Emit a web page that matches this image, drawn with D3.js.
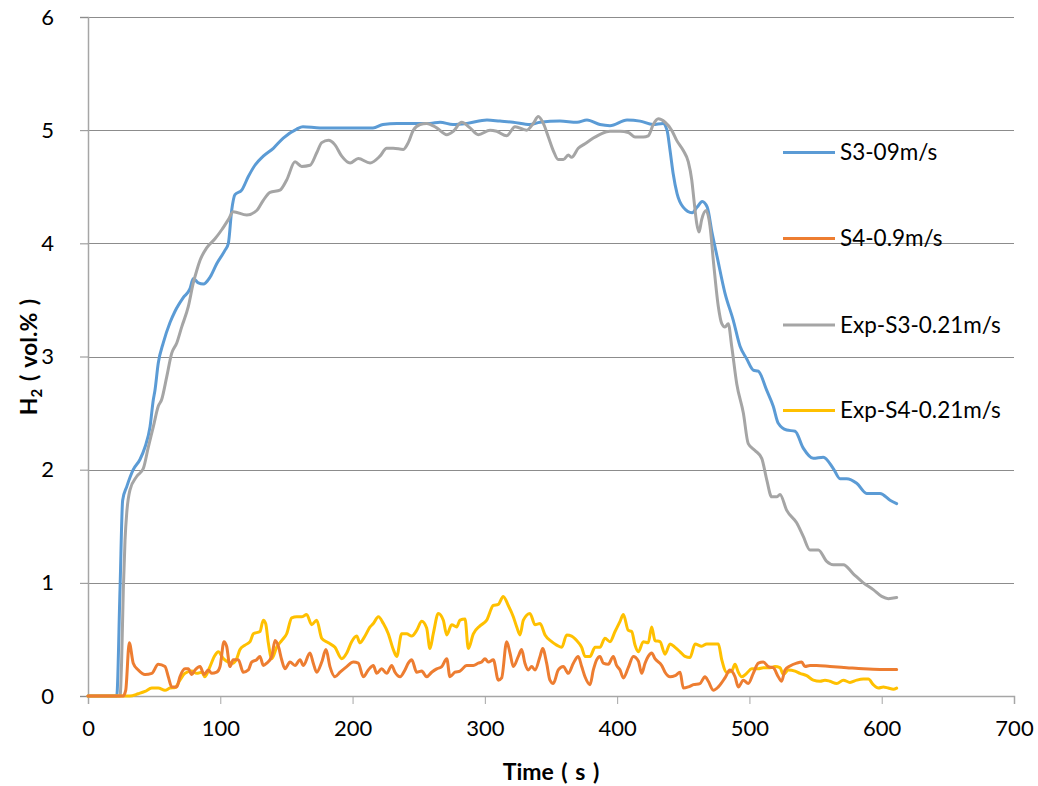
<!DOCTYPE html>
<html>
<head>
<meta charset="utf-8">
<script src="https://cdn.jsdelivr.net/npm/d3@7"></script>
<style>
  html, body { margin: 0; padding: 0; background: #ffffff; }
  svg { display: block; font-family: Lato, "Open Sans", sans-serif; }
</style>
</head>
<body>
<svg id="chart" width="1038" height="786"></svg>
<script>
// Hydrogen concentration (vol.%) versus time (s), [time, value] pairs per series.
const seriesNames = ["S3-09m/s", "S4-0.9m/s", "Exp-S3-0.21m/s", "Exp-S4-0.21m/s"];
const seriesColors = ["#5B9BD5", "#ED7D31", "#A5A5A5", "#FFC000"];

const s3Sim = [
  [0,0],[21.7,0],[24.2,0.94],[26.2,1.73],[29.3,1.85],[34.2,2.0],[39.3,2.09],[43.1,2.2],[46.9,2.38],
  [49.4,2.62],[50.6,2.70],[53.1,2.94],[56.9,3.12],[62,3.30],[65.8,3.40],[72,3.52],[77.1,3.60],
  [79.6,3.69],[83.4,3.65],[87.2,3.64],[92.2,3.70],[97.3,3.82],[103.6,3.94],[106.1,4.0],[108.6,4.29],
  [111.1,4.43],[116.2,4.47],[121.2,4.59],[126.2,4.69],[132.5,4.77],[140.1,4.84],[147.6,4.93],
  [157.8,5.01],[162.5,5.03],[175.4,5.02],[190.5,5.02],[205.6,5.02],[215.4,5.02],[223,5.05],
  [233.6,5.06],[245.7,5.06],[258.5,5.06],[266.1,5.07],[275.9,5.05],[286.5,5.06],[301.6,5.09],
  [311.4,5.08],[321.3,5.07],[334.1,5.05],[341.7,5.07],[356.8,5.08],[369.7,5.07],[377.2,5.09],
  [387,5.05],[394.6,5.04],[407.5,5.09],[417.3,5.08],[427.1,5.05],[434.7,5.06],[437.7,5.0],
  [440,4.82],[442.3,4.62],[445.3,4.44],[449.9,4.32],[456.7,4.27],[460.5,4.32],[464.3,4.37],
  [468.1,4.32],[471.8,4.09],[475.6,3.88],[481.5,3.56],[487.8,3.32],[492.9,3.09],[497.9,2.98],
  [502.9,2.88],[506.7,2.87],[513.1,2.70],[518,2.56],[521.8,2.41],[528.2,2.35],[534.5,2.34],
  [540.7,2.19],[548.3,2.10],[555.8,2.11],[563.4,2.01],[568.5,1.92],[573.5,1.92],[581.1,1.88],
  [588.6,1.79],[598.7,1.79],[606.3,1.73],[611.3,1.70]
];

const s4Sim = [
  [0,0],[26.5,0],[28.5,0.05],[31.2,0.47],[34.2,0.29],[38,0.23],[43.1,0.19],[48.2,0.20],[53.1,0.28],
  [58.2,0.26],[60.7,0.17],[63.3,0.08],[67.1,0.08],[69.5,0.17],[73.3,0.24],[75.8,0.24],[78.4,0.19],
  [80.9,0.23],[84.7,0.26],[87.7,0.19],[90.9,0.23],[93.5,0.20],[97.3,0.21],[99.8,0.26],[102.8,0.48],
  [104.8,0.44],[107.3,0.26],[109.8,0.32],[113.6,0.32],[117.4,0.21],[121.2,0.23],[123.7,0.30],
  [127.5,0.32],[130,0.35],[132.5,0.27],[135.1,0.29],[138.9,0.35],[141.4,0.49],[143.9,0.44],
  [146.4,0.32],[148.9,0.24],[152.7,0.30],[156.5,0.27],[160.3,0.32],[162.8,0.27],[167.8,0.38],
  [170.3,0.29],[172.9,0.21],[176.7,0.30],[179.9,0.41],[182.9,0.26],[186.7,0.17],[190.5,0.21],
  [195.6,0.26],[200.6,0.30],[204.3,0.29],[208.1,0.17],[211.9,0.23],[215.7,0.27],[218.2,0.20],
  [222,0.24],[225.8,0.20],[229.6,0.27],[232.1,0.21],[235.9,0.17],[239.6,0.23],[242.1,0.29],
  [244.7,0.32],[248.5,0.21],[252.3,0.22],[256,0.17],[259.8,0.21],[263.6,0.24],[267.4,0.26],
  [271.2,0.33],[273.6,0.17],[277.4,0.21],[281.2,0.22],[286.3,0.27],[291.3,0.27],[295,0.29],
  [297.6,0.30],[300.1,0.33],[302.6,0.30],[306.4,0.32],[310.2,0.14],[312.7,0.16],[316.5,0.48],
  [319,0.38],[321.5,0.26],[325.3,0.35],[327.8,0.41],[330.3,0.29],[332.8,0.23],[335.4,0.26],
  [337.9,0.23],[341.7,0.35],[343.7,0.42],[346.7,0.29],[349.2,0.14],[351.7,0.11],[355.5,0.23],
  [359.3,0.26],[363.1,0.20],[366.9,0.29],[370.6,0.35],[373.2,0.26],[375.7,0.17],[379.5,0.10],
  [382,0.23],[384.5,0.32],[387,0.35],[389.5,0.29],[393.3,0.28],[397.1,0.35],[399.6,0.27],
  [402.2,0.23],[404.7,0.16],[408.4,0.25],[412.2,0.35],[416,0.31],[418.6,0.20],[421.1,0.29],
  [423.5,0.35],[426.1,0.38],[428.6,0.33],[433.7,0.27],[436.2,0.21],[440,0.17],[443.8,0.18],
  [447.6,0.21],[450,0.07],[453.8,0.08],[457.6,0.10],[462.6,0.11],[466.4,0.17],[468.9,0.13],
  [472.7,0.05],[476.5,0.08],[481.5,0.16],[485.3,0.23],[489.1,0.17],[491.6,0.08],[495.4,0.14],
  [499.1,0.11],[502.9,0.20],[506.7,0.29],[510.5,0.30],[514.3,0.26],[518,0.25],[521.8,0.17],
  [524.3,0.13],[526.9,0.23],[530.7,0.265],[535.7,0.29],[539.5,0.30],[542,0.26],[545.8,0.27],
  [550.8,0.27],[560.9,0.26],[573.5,0.25],[586.1,0.24],[598.7,0.235],[611.3,0.235]
];

const s3Exp = [
  [0,0],[24.2,0],[25.4,0.3],[26.7,0.94],[28,1.38],[29.3,1.62],[31.7,1.82],[36.8,1.94],[41.8,2.01],
  [45.6,2.20],[49.4,2.38],[53.1,2.56],[55.7,2.62],[59.5,2.82],[63.3,3.03],[67.1,3.12],[70.8,3.26],
  [75.8,3.44],[79.6,3.65],[82.2,3.76],[84.7,3.85],[89.7,3.96],[96,4.04],[101.1,4.12],[106.1,4.21],
  [109.8,4.28],[120,4.25],[127.5,4.29],[132.5,4.38],[137.6,4.45],[145.1,4.47],[150.2,4.56],
  [156.5,4.72],[161.5,4.68],[167.8,4.69],[172.9,4.80],[176.7,4.89],[181.7,4.91],[186.7,4.87],
  [191.8,4.77],[198.1,4.71],[204.3,4.75],[213.2,4.71],[220.7,4.77],[225.8,4.84],[230.8,4.84],
  [238.4,4.83],[242.1,4.89],[245.9,5.0],[251,5.05],[256,5.06],[263.6,5.02],[271.2,4.96],
  [276.1,4.99],[282.5,5.07],[288.8,5.02],[295,4.96],[303.9,5.0],[308.9,4.99],[316.5,4.95],
  [322.8,5.03],[331.6,5.0],[336.6,5.06],[340.4,5.12],[344.2,5.06],[348,4.94],[351.7,4.82],
  [355.5,4.74],[359.3,4.74],[363.1,4.78],[365.6,4.76],[370.6,4.84],[375.7,4.88],[382,4.93],
  [388.3,4.97],[394.6,4.99],[402.2,4.99],[408.4,4.98],[413.5,4.94],[419.8,4.94],[423.5,4.95],
  [427.3,5.05],[431.1,5.10],[436.2,5.07],[441.2,5.0],[445,4.91],[450,4.82],[453.8,4.72],
  [456.4,4.56],[458.1,4.38],[460.1,4.18],[461.9,4.10],[463.9,4.21],[467.2,4.29],[470.2,4.15],
  [472.7,3.85],[476.5,3.44],[479.1,3.29],[481.5,3.26],[484,3.29],[486.6,3.09],[490.4,2.76],
  [495.4,2.50],[499.1,2.23],[504.2,2.17],[509.3,2.10],[513.1,1.91],[516.8,1.76],[520.6,1.76],
  [523.1,1.78],[528.2,1.64],[535.7,1.53],[540.7,1.41],[545.8,1.29],[552.1,1.29],[558.4,1.19],
  [563.4,1.16],[571,1.16],[578.5,1.08],[586.1,1.0],[593.6,0.94],[600,0.88],[605,0.86],[611.3,0.87]
];

const s4Exp = [
  [0,0],[31.7,0],[38,0.02],[43.1,0.04],[48.2,0.07],[53.1,0.07],[58.2,0.05],[62,0.07],[65.8,0.075],
  [69.5,0.14],[73.3,0.20],[78.4,0.22],[82.2,0.20],[86,0.21],[88.4,0.17],[92.2,0.26],[96,0.36],
  [98.5,0.39],[102.3,0.33],[106.1,0.30],[109.8,0.29],[112.4,0.33],[114.9,0.41],[118.7,0.45],
  [122.5,0.48],[125,0.55],[130,0.57],[132.5,0.67],[134.3,0.64],[136.3,0.47],[138.9,0.33],
  [142.6,0.43],[146.4,0.49],[150.2,0.55],[154,0.69],[157.8,0.70],[161.5,0.70],[165.3,0.72],
  [169.1,0.63],[172.9,0.67],[176.7,0.51],[181.7,0.47],[186.7,0.43],[191.8,0.33],[195.6,0.38],
  [199.3,0.48],[203.1,0.53],[205.6,0.47],[209.4,0.53],[213.2,0.61],[215.7,0.64],[219.5,0.70],
  [223.3,0.64],[227,0.55],[230.8,0.41],[233.4,0.35],[237.1,0.55],[240.9,0.55],[244.7,0.53],
  [248.5,0.58],[252.3,0.66],[256,0.60],[258.5,0.42],[261,0.55],[264.8,0.73],[268.6,0.67],
  [271.2,0.54],[274.9,0.63],[278.7,0.61],[281.2,0.67],[285,0.68],[287.5,0.42],[291.3,0.55],
  [296.3,0.62],[301.4,0.67],[306.4,0.80],[310.2,0.81],[313.9,0.88],[317.7,0.80],[321.5,0.70],
  [324.1,0.61],[326.6,0.54],[329.1,0.67],[334.1,0.73],[337.9,0.63],[341.7,0.64],[345.5,0.54],
  [350.5,0.48],[354.3,0.45],[358.1,0.43],[361.9,0.54],[365.6,0.53],[369.4,0.49],[373.2,0.43],
  [375.7,0.35],[379.5,0.35],[383.3,0.43],[387,0.43],[390.8,0.51],[394.6,0.48],[398.4,0.57],
  [402.2,0.66],[404.7,0.72],[408.4,0.58],[411,0.57],[413.5,0.45],[416,0.39],[419.8,0.48],
  [423.5,0.47],[426.1,0.61],[428.6,0.49],[432.4,0.48],[436.2,0.37],[440,0.46],[443.8,0.43],
  [447.6,0.39],[451.3,0.35],[455.1,0.34],[458.9,0.46],[463.9,0.44],[467.7,0.46],[472.7,0.46],
  [476.5,0.46],[479.1,0.32],[482.8,0.21],[486.6,0.22],[489.1,0.28],[491.6,0.21],[494.2,0.17],
  [497.9,0.20],[501.7,0.24],[506.7,0.24],[510.5,0.25],[515.5,0.25],[519.3,0.26],[523.1,0.25],
  [525.6,0.19],[529.4,0.23],[534.5,0.22],[538.2,0.20],[543.3,0.18],[548.3,0.14],[553.4,0.13],
  [557.1,0.14],[560.9,0.13],[566,0.11],[571,0.14],[576,0.12],[581.1,0.14],[586.1,0.15],
  [589.9,0.15],[593.6,0.10],[597.5,0.07],[601.2,0.08],[605,0.07],[608.8,0.06],[611.3,0.07]
];

const xTicks = [0, 100, 200, 300, 400, 500, 600, 700];
const yTicks = [0, 1, 2, 3, 4, 5, 6];

const seriesData = [s3Sim, s4Sim, s3Exp, s4Exp];
// Drawing order: simulated S3, experimental S3, experimental S4, simulated S4 on top of the low band
const drawOrder = [0, 2, 3, 1];

const svg = d3.select("#chart");
const plot = { left: 88, right: 1014, top: 17, bottom: 696 };

const x = d3.scaleLinear().domain([0, 700]).range([plot.left, plot.right]);
const y = d3.scaleLinear().domain([0, 6]).range([plot.bottom, plot.top]);

// Horizontal gridlines
svg.append("g")
  .selectAll("line")
  .data(yTicks.filter(d => d > 0))
  .join("line")
  .attr("x1", plot.left).attr("x2", plot.right)
  .attr("y1", d => Math.round(y(d)) + 0.5).attr("y2", d => Math.round(y(d)) + 0.5)
  .attr("stroke", "#8c8c8c").attr("stroke-width", 1);

// Y axis
const yAxis = svg.append("g")
  .attr("transform", `translate(${plot.left},0)`)
  .call(d3.axisLeft(y).tickValues(yTicks).tickSize(8).tickPadding(26).tickFormat(d3.format("d")));
yAxis.select(".domain").attr("stroke", "#a6a6a6").attr("stroke-width", 1.5);
yAxis.selectAll(".tick line").attr("stroke", "#8c8c8c");
yAxis.selectAll(".tick text").attr("font-size", 22).attr("fill", "#000")
  .attr("font-family", "Lato, sans-serif");

// X axis
const xAxis = svg.append("g")
  .attr("transform", `translate(0,${plot.bottom})`)
  .call(d3.axisBottom(x).tickValues(xTicks).tickSize(8).tickPadding(16).tickFormat(d3.format("d")));
xAxis.select(".domain").attr("stroke", "#a6a6a6").attr("stroke-width", 1.5);
xAxis.selectAll(".tick line").attr("stroke", "#a6a6a6");
xAxis.selectAll(".tick text").attr("font-size", 22).attr("fill", "#000")
  .attr("font-family", "Lato, sans-serif");

// Series lines
const line = d3.line()
  .x(d => x(d[0]))
  .y(d => y(d[1]))
  .curve(d3.curveMonotoneX);

svg.append("g")
  .selectAll("path")
  .data(drawOrder)
  .join("path")
  .attr("d", i => line(seriesData[i]))
  .attr("fill", "none")
  .attr("stroke", i => seriesColors[i])
  .attr("stroke-width", 3)
  .attr("stroke-linejoin", "round")
  .attr("stroke-linecap", "round");

// Legend
const legendY = [152.5, 238.5, 325, 410.5];
const legend = svg.append("g");
seriesNames.forEach((name, i) => {
  legend.append("line")
    .attr("x1", 783).attr("x2", 835)
    .attr("y1", legendY[i]).attr("y2", legendY[i])
    .attr("stroke", seriesColors[i]).attr("stroke-width", 3);
  legend.append("text")
    .attr("x", 840).attr("y", legendY[i])
    .attr("dy", "0.35em")
    .attr("font-size", 22.5)
    .attr("fill", "#000")
    .text(name);
});

// Axis titles
svg.append("text")
  .attr("x", 551).attr("y", 780)
  .attr("text-anchor", "middle")
  .attr("font-size", 23).attr("font-weight", "bold")
  .attr("word-spacing", 2)
  .text("Time ( s )");

const yTitle = svg.append("text")
  .attr("transform", "translate(37,357) rotate(-90)")
  .attr("text-anchor", "middle")
  .attr("font-size", 23).attr("font-weight", "bold")
  .attr("word-spacing", 2);
yTitle.append("tspan").text("H");
yTitle.append("tspan").attr("font-size", 15).attr("dy", 5).text("2");
yTitle.append("tspan").attr("dy", -5).text(" ( vol.% )");
</script>
</body>
</html>
